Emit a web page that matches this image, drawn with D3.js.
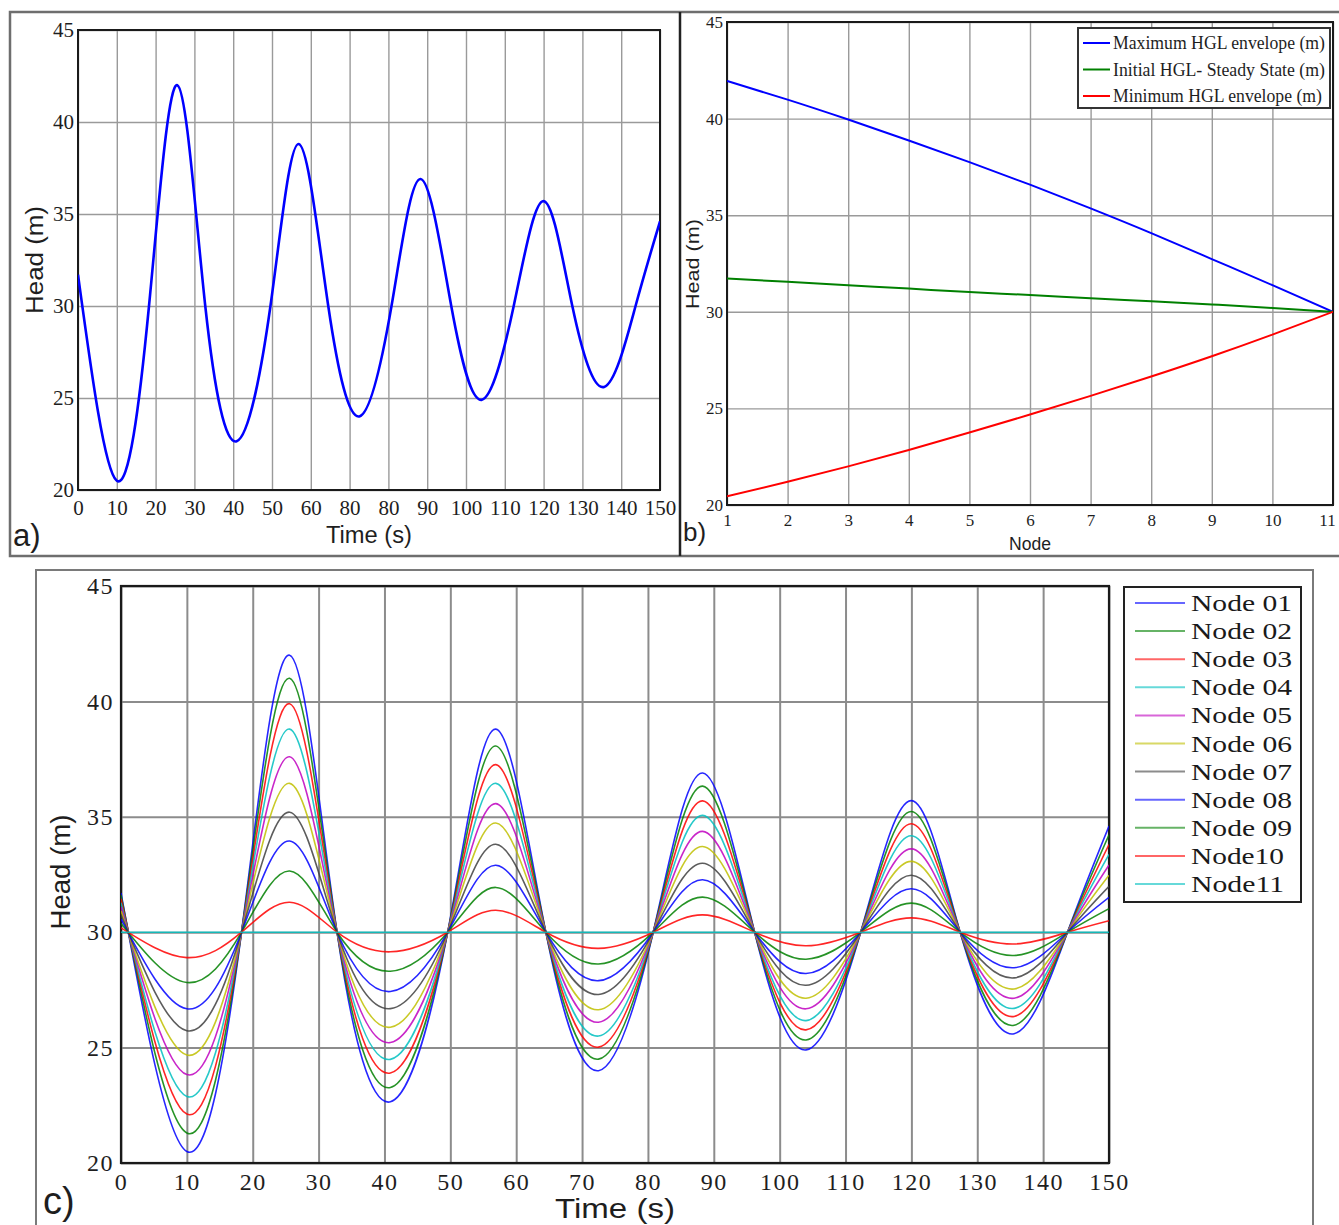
<!DOCTYPE html>
<html><head><meta charset="utf-8">
<script src="https://cdn.jsdelivr.net/npm/d3@7"></script>
<style>body{margin:0;background:#fff}</style>
</head><body>
<svg id="fig" width="1339" height="1225"></svg>
<script>
// ---------- DATA ----------
// shared sample times (s): start, then alternating extremes / 30 m crossings
const times = [0,10,18.3,25.6,32.8,40.9,49.6,56.9,64.5,72.5,80.8,88.3,96.2,104,112.3,120,127.4,135.6,143.7,150];
const node01 = [31.7,20.5,30,42.0,30,22.65,30,38.8,30,24.0,30,36.9,30,24.9,30,35.7,30,25.6,30,34.6];
const node02 = [31.6,21.3,30,41.0,30,23.27,30,38.07,30,24.5,30,36.33,30,25.33,30,35.23,30,25.97,30,34.22];
const node03 = [31.45,22.12,30,39.9,30,23.9,30,37.26,30,25.02,30,35.69,30,25.77,30,34.7,30,26.35,30,33.8];
const node04 = [31.28,22.88,30,38.8,30,24.49,30,36.45,30,25.5,30,35.06,30,26.17,30,34.18,30,26.7,30,33.37];
const node05 = [31.1,23.83,30,37.6,30,25.22,30,35.57,30,26.1,30,34.37,30,26.68,30,33.61,30,27.14,30,32.91];
const node06 = [30.93,24.68,30,36.45,30,25.88,30,34.73,30,26.64,30,33.71,30,27.14,30,33.07,30,27.54,30,32.47];
const node07 = [30.75,25.73,30,35.2,30,26.69,30,33.81,30,27.3,30,32.99,30,27.7,30,32.47,30,28.02,30,31.99];
const node08 = [30.57,26.68,30,33.95,30,27.43,30,32.9,30,27.9,30,32.27,30,28.21,30,31.88,30,28.46,30,31.51];
const node09 = [30.38,27.82,30,32.65,30,28.31,30,31.94,30,28.62,30,31.52,30,28.83,30,31.26,30,28.99,30,31.02];
const node10 = [30.19,28.9,30,31.3,30,29.15,30,30.95,30,29.3,30,30.75,30,29.41,30,30.62,30,29.49,30,30.5];
const node11 = [30,30,30,30,30,30,30,30,30,30,30,30,30,30,30,30,30,30,30,30];
const nodeNames = ["Node 01","Node 02","Node 03","Node 04","Node 05","Node 06","Node 07","Node 08","Node 09","Node10","Node11"];
const nodeSeries = [node01,node02,node03,node04,node05,node06,node07,node08,node09,node10,node11];
const nodeColors = ["#0000ff","#008000","#ff0000","#00bfbf","#bf00bf","#bfbf00","#404040","#0000ff","#008000","#ff0000","#00bfbf"];

// panel b: envelopes along the pipe
const nodeIdx = [1,2,3,4,5,6,7,8,9,10,11];
const maxEnv = [41.95,40.98,39.95,38.87,37.75,36.58,35.35,34.07,32.73,31.38,30.0];
const steady = [31.72,31.55,31.37,31.2,31.02,30.87,30.7,30.55,30.38,30.2,30.0];
const minEnv = [20.45,21.2,22.0,22.85,23.75,24.68,25.65,26.65,27.7,28.82,30.0];
const envNames = ["Maximum HGL envelope (m)","Initial HGL- Steady State (m)","Minimum HGL envelope (m)"];
const envColors = ["#0000ff","#008000","#ff0000"];

// tick labels
const timeTicks = [0,10,20,30,40,50,60,70,80,90,100,110,120,130,140,150];
const timeLabelsA = ["0","10","20","30","40","50","60","80","80","90","100","110","120","130","140","150"];
const timeLabelsC = ["0","10","20","30","40","50","60","70","80","90","100","110","120","130","140","150"];
const headTicks = [20,25,30,35,40,45];

// ---------- DRAWING ----------
const svg = d3.select('#fig');
const SERIF = "'Liberation Serif','Times New Roman',serif";
const SANS = "'Liberation Sans',Arial,sans-serif";
svg.append('rect').attr('width',1339).attr('height',1225).attr('fill','#fff');

// outer frames
svg.append('rect').attr('x',10).attr('y',12).attr('width',1340).attr('height',544)
  .attr('fill','none').attr('stroke','#6e6e6e').attr('stroke-width',2.5);
svg.append('line').attr('x1',680).attr('x2',680).attr('y1',12).attr('y2',556)
  .attr('stroke','#222').attr('stroke-width',2.5);
svg.append('rect').attr('x',36).attr('y',570).attr('width',1277).attr('height',700)
  .attr('fill','none').attr('stroke','#7a7a7a').attr('stroke-width',2);

let clipId = 0;
function drawPanel(o){
  const g = svg.append('g');
  const x = d3.scaleLinear().domain(o.xDomain).range([o.l,o.r]);
  const y = d3.scaleLinear().domain([20,45]).range([o.b,o.t]);
  // grid
  g.append('g').attr('transform',`translate(0,${o.b})`)
    .call(d3.axisBottom(x).tickValues(o.xTicks).tickSize(-(o.b-o.t)).tickFormat(''))
    .call(s=>{s.select('.domain').remove();s.selectAll('line').attr('stroke',o.grid).attr('stroke-width',o.gridW);});
  g.append('g').attr('transform',`translate(${o.l},0)`)
    .call(d3.axisLeft(y).tickValues(headTicks).tickSize(-(o.r-o.l)).tickFormat(''))
    .call(s=>{s.select('.domain').remove();s.selectAll('line').attr('stroke',o.grid).attr('stroke-width',o.gridW);});
  // tick labels
  const xl = g.append('g').attr('transform',`translate(0,${o.b})`)
    .call(d3.axisBottom(x).tickValues(o.xTicks).tickSize(0).tickPadding(o.xPad).tickFormat((d,i)=>o.xLabels[i]))
    .call(s=>{s.select('.domain').remove();s.selectAll('text').attr('font-family',SERIF).attr('font-size',o.fs)
      .attr('fill','#1e1e1e').attr('letter-spacing',o.ls||0);});
  g.append('g').attr('transform',`translate(${o.l},0)`)
    .call(d3.axisLeft(y).tickValues(headTicks).tickSize(0).tickPadding(o.yPad))
    .call(s=>{s.select('.domain').remove();s.selectAll('text').attr('font-family',SERIF).attr('font-size',o.fs)
      .attr('fill','#1e1e1e').attr('letter-spacing',o.ls||0);});
  // frame
  g.append('rect').attr('x',o.l).attr('y',o.t).attr('width',o.r-o.l).attr('height',o.b-o.t)
    .attr('fill','none').attr('stroke','#1a1a1a').attr('stroke-width',o.frameW);
  const id = 'clip'+(clipId++);
  svg.append('clipPath').attr('id',id).append('rect').attr('x',o.l).attr('y',o.t-2).attr('width',o.r-o.l).attr('height',o.b-o.t+4);
  const plot = svg.append('g').attr('clip-path',`url(#${id})`);
  return {x,y,g,plot,xl};
}

// ---- panel a ----
const A = drawPanel({l:78,r:660,t:30,b:490,xDomain:[0,150],xTicks:timeTicks,xLabels:timeLabelsA,
  grid:'#9a9a9a',gridW:1.4,xPad:10,yPad:4,fs:21,frameW:2});
A.plot.append('path').datum(node01)
  .attr('d',d3.line().x((d,i)=>A.x(times[i])).y(d=>A.y(d)).curve(d3.curveNatural))
  .attr('fill','none').attr('stroke','#0000ff').attr('stroke-width',2.6);
svg.append('text').attr('transform','translate(43,260) rotate(-90)').attr('text-anchor','middle')
  .attr('font-family',SANS).attr('font-size',23).attr('textLength',108).attr('lengthAdjust','spacingAndGlyphs')
  .attr('fill','#1e1e1e').text('Head (m)');
svg.append('text').attr('x',369).attr('y',543).attr('text-anchor','middle')
  .attr('font-family',SANS).attr('font-size',23).attr('textLength',86).attr('lengthAdjust','spacingAndGlyphs')
  .attr('fill','#1e1e1e').text('Time (s)');
svg.append('text').attr('x',13).attr('y',546).attr('font-family',SANS).attr('font-size',31).attr('fill','#1e1e1e').text('a)');

// ---- panel b ----
const B = drawPanel({l:727,r:1333,t:22,b:505,xDomain:[1,11],xTicks:nodeIdx,xLabels:nodeIdx.map(String),
  grid:'#9a9a9a',gridW:1.4,xPad:9,yPad:4,fs:17,frameW:2});
B.xl.selectAll('text').filter((d,i)=>i===nodeIdx.length-1).attr('dx',-6);
[maxEnv,steady,minEnv].forEach((s,k)=>{
  B.plot.append('path').datum(s)
    .attr('d',d3.line().x((d,i)=>B.x(nodeIdx[i])).y(d=>B.y(d)).curve(d3.curveNatural))
    .attr('fill','none').attr('stroke',envColors[k]).attr('stroke-width',2);
});
svg.append('text').attr('transform','translate(699,264) rotate(-90)').attr('text-anchor','middle')
  .attr('font-family',SANS).attr('font-size',19).attr('textLength',90).attr('lengthAdjust','spacingAndGlyphs')
  .attr('fill','#1e1e1e').text('Head (m)');
svg.append('text').attr('x',1030).attr('y',550).attr('text-anchor','middle')
  .attr('font-family',SANS).attr('font-size',18).attr('textLength',42).attr('lengthAdjust','spacingAndGlyphs')
  .attr('fill','#1e1e1e').text('Node');
svg.append('text').attr('x',683).attr('y',541).attr('font-family',SANS).attr('font-size',26).attr('fill','#1e1e1e').text('b)');
// legend b
const lb = svg.append('g');
lb.append('rect').attr('x',1078).attr('y',28).attr('width',252).attr('height',80)
  .attr('fill','#fff').attr('stroke','#333').attr('stroke-width',2);
const lbLen = [212,212,209];
envNames.forEach((n,k)=>{
  const yy = 43 + k*26.5;
  lb.append('line').attr('x1',1083).attr('x2',1110).attr('y1',yy).attr('y2',yy).attr('stroke',envColors[k]).attr('stroke-width',2);
  lb.append('text').attr('x',1113).attr('y',yy+6).attr('font-family',SERIF).attr('font-size',18)
    .attr('textLength',lbLen[k]).attr('lengthAdjust','spacingAndGlyphs').attr('fill','#1e1e1e').text(n);
});

// ---- panel c ----
const C = drawPanel({l:121,r:1109,t:586,b:1163,xDomain:[0,150],xTicks:timeTicks,xLabels:timeLabelsC,
  grid:'#8c8c8c',gridW:2,xPad:10,yPad:7,fs:24,ls:1.5,frameW:2.2});
nodeSeries.forEach((s,k)=>{
  C.plot.append('path').datum(s)
    .attr('d',d3.line().x((d,i)=>C.x(times[i])).y(d=>C.y(d)).curve(d3.curveNatural))
    .attr('fill','none').attr('stroke',nodeColors[k]).attr('stroke-width',1.6).attr('stroke-opacity',0.85);
});
svg.append('text').attr('transform','translate(70,872) rotate(-90)').attr('text-anchor','middle')
  .attr('font-family',SANS).attr('font-size',27).attr('textLength',115).attr('lengthAdjust','spacingAndGlyphs')
  .attr('fill','#1e1e1e').text('Head (m)');
svg.append('text').attr('x',615).attr('y',1218).attr('text-anchor','middle')
  .attr('font-family',SANS).attr('font-size',28).attr('textLength',120).attr('lengthAdjust','spacingAndGlyphs')
  .attr('fill','#1e1e1e').text('Time (s)');
svg.append('text').attr('x',43).attr('y',1214).attr('font-family',SANS).attr('font-size',38).attr('fill','#1e1e1e').text('c)');
// legend c
const lc = svg.append('g');
lc.append('rect').attr('x',1124).attr('y',587).attr('width',177).attr('height',315)
  .attr('fill','#fff').attr('stroke','#222').attr('stroke-width',2);
nodeNames.forEach((n,k)=>{
  const yy = 603 + k*28.1;
  lc.append('line').attr('x1',1135).attr('x2',1185).attr('y1',yy).attr('y2',yy)
    .attr('stroke',nodeColors[k]).attr('stroke-width',2).attr('stroke-opacity',0.6);
  lc.append('text').attr('x',1191).attr('y',yy+8).attr('font-family',SERIF).attr('font-size',23)
    .attr('textLength',k<9?101:93).attr('lengthAdjust','spacingAndGlyphs').attr('fill','#1a1a1a').text(n);
});
</script>
</body></html>
